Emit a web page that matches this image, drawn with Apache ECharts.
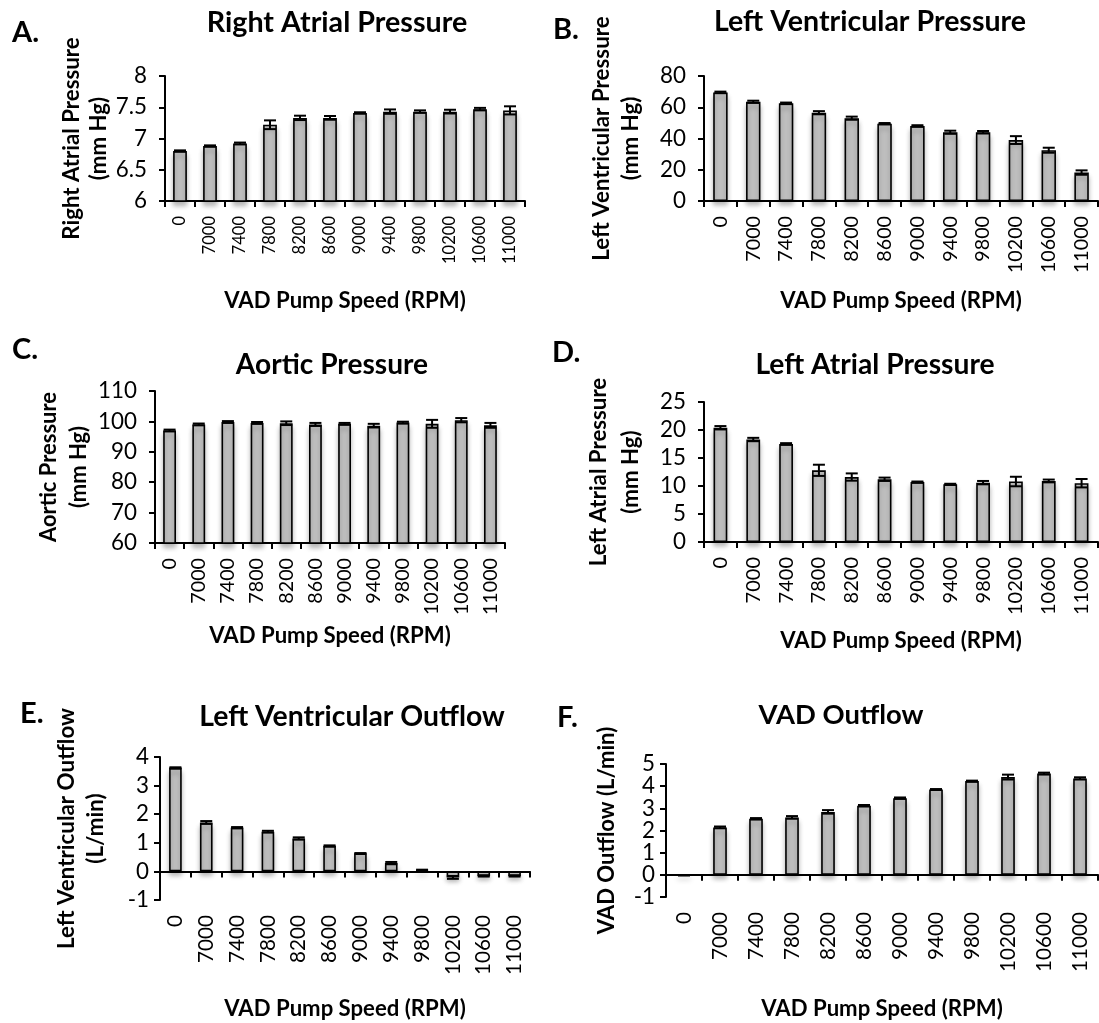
<!DOCTYPE html>
<html><head><meta charset="utf-8">
<script src="https://cdn.jsdelivr.net/npm/echarts@6/dist/echarts.min.js"></script>
<style>html,body{margin:0;padding:0;background:#fff}#c{width:1099px;height:1023px}</style>
</head><body><div id="c"></div>
<script>
// ---------- data ----------
const categories = ['0','7000','7400','7800','8200','8600','9000','9400','9800','10200','10600','11000'];
const rapMean = [6.80,6.88,6.92,7.22,7.33,7.33,7.41,7.43,7.43,7.43,7.47,7.45];
const rapErr  = [0.01,0.01,0.015,0.07,0.035,0.03,0.01,0.035,0.02,0.03,0.02,0.065];
const lvpMean = [69.5,63.5,62.5,56.5,53.0,49.5,48.0,44.0,44.0,39.0,32.5,18.2];
const lvpErr  = [0.5,0.7,0.5,1.0,1.0,0.4,0.5,1.0,0.8,2.5,1.6,1.4];
const aopMean = [97.0,99.0,99.8,99.5,99.4,99.0,99.2,98.6,99.6,99.2,100.4,98.7];
const aopErr  = [0.3,0.3,0.3,0.3,0.6,0.5,0.3,0.6,0.3,1.3,0.7,0.8];
const lapMean = [20.4,18.3,17.5,12.8,11.6,11.2,10.7,10.3,10.6,10.8,10.9,10.5];
const lapErr  = [0.3,0.3,0.15,1.0,0.65,0.3,0.1,0.1,0.3,0.85,0.25,0.75];
const lvoMean = [3.62,1.71,1.53,1.39,1.15,0.89,0.63,0.29,0.04,-0.21,-0.16,-0.16];
const lvoErr  = [0.02,0.05,0.02,0.03,0.04,0.02,0.01,0.04,0.02,0.05,0.02,0.02];
const vadMean = [-0.02,2.14,2.53,2.59,2.84,3.12,3.46,3.85,4.23,4.41,4.57,4.35];
const vadErr  = [0.01,0.04,0.03,0.06,0.08,0.03,0.03,0.02,0.02,0.11,0.04,0.05];

const panelLetters = ['A.','B.','C.','D.','E.','F.'];
const panelTitles = ['Right Atrial Pressure','Left Ventricular Pressure','Aortic Pressure','Left Atrial Pressure','Left Ventricular Outflow','VAD Outflow'];
const yNames = ['Right Atrial Pressure\n(mm Hg)','Left Ventricular Pressure\n(mm Hg)','Aortic Pressure\n(mm Hg)','Left Atrial Pressure\n(mm Hg)','Left Ventricular Outflow\n(L/min)','VAD Outflow (L/min)'];
const xName = 'VAD Pump Speed (RPM)';
const yMin = [6,0,60,0,-1,-1];
const yMax = [8,80,110,25,4,5];
const yInterval = [0.5,20,10,5,1,1];
const means = [rapMean,lvpMean,aopMean,lapMean,lvoMean,vadMean];
const errs = [rapErr,lvpErr,aopErr,lapErr,lvoErr,vadErr];

// ---------- layout ----------
const FONT = 'Lato';
const BOLD_BOOST = 1.05;
const layout = [
  {grid:{left:165,top:76,width:360,height:125}, title:[337,23,248], letter:[12,33], yNameW:193, lh:27, yGap:52, xGap:86, xLabW:48, barW:'46%', yMar:18},
  {grid:{left:704,top:76,width:394,height:125}, title:[870,22,297], letter:[553,30], yNameW:233, lh:29, yGap:59, xGap:86, xLabW:57, barW:'44%', yMar:18},
  {grid:{left:155,top:391,width:350,height:152}, title:[332,365,183], letter:[12,350], yNameW:143, lh:30, yGap:60, xGap:79, xLabW:57, barW:'44%', yMar:18},
  {grid:{left:704,top:402,width:394,height:140}, title:[875,365,228], letter:[552,353], yNameW:180, lh:32, yGap:57, xGap:85, xLabW:58, barW:'42%', yMar:18},
  {grid:{left:160,top:757,width:370,height:183}, title:[352,717,291], letter:[20,714], yNameW:230, lh:29, yGap:50, xGap:95, xLabW:60, barW:'41%', yMar:11},
  {grid:{left:666,top:764,width:432,height:164}, title:[841,715,157], letter:[557,718], yNameW:198, lh:26, yGap:46, xGap:98, xLabW:60, barW:'38%', yMar:11}
];

const ctx = document.createElement('canvas').getContext('2d');
function fit(text, weight, target) {
  ctx.font = weight + ' 100px ' + FONT;
  return Math.round(1000 * target / ctx.measureText(text).width) / 10;
}
const yTickFs = fit('00', 'normal', 26);
const xNameFs = fit(xName, 'bold', 230) * BOLD_BOOST;

const grids = [], xAxes = [], yAxes = [], series = [], graphics = [];
layout.forEach((L, i) => {
  grids.push(Object.assign({containLabel:false}, L.grid));
  const xLabFs = fit('10200', 'normal', L.xLabW);
  const yNameFs = fit(yNames[i].split('\n')[0], 'bold', L.yNameW) * BOLD_BOOST;
  xAxes.push({
    type:'category', gridIndex:i, data:categories,
    name:xName, nameLocation:'middle', nameGap:L.xGap,
    nameTextStyle:{fontFamily:FONT, fontWeight:'bold', fontSize:xNameFs, color:'#000', lineHeight:Math.round(xNameFs*1.2)},
    axisLine:{show:true, onZero:true, lineStyle:{color:'#000', width:2}},
    axisTick:{show:true, length:6, lineStyle:{color:'#000', width:2}},
    axisLabel:{rotate:90, interval:0, margin:15, fontFamily:FONT, fontSize:xLabFs, color:'#000'},
    splitLine:{show:false}
  });
  yAxes.push({
    type:'value', gridIndex:i, min:yMin[i], max:yMax[i], interval:yInterval[i],
    name:yNames[i], nameLocation:'middle', nameRotate:90, nameGap:L.yGap,
    nameTextStyle:{fontFamily:FONT, fontWeight:'bold', fontSize:yNameFs, color:'#000', lineHeight:L.lh},
    axisLine:{show:true, lineStyle:{color:'#000', width:2}},
    axisTick:{show:true, length:6, lineStyle:{color:'#000', width:2}},
    axisLabel:{margin:L.yMar, fontFamily:FONT, fontSize:yTickFs, color:'#000'},
    splitLine:{show:false}
  });
  series.push({
    type:'bar', xAxisIndex:i, yAxisIndex:i, data:means[i], barWidth:L.barW,
    itemStyle:{color:'#bfbfbf', borderColor:'#000', borderWidth:1.6,
      shadowColor:'rgba(0,0,0,0.28)', shadowBlur:5, shadowOffsetY:4},
    emphasis:{disabled:true}, silent:true
  });
  series.push({
    type:'custom', xAxisIndex:i, yAxisIndex:i, silent:true, z:5,
    data:means[i].map((m, k) => [k, m, errs[i][k]]),
    renderItem:function (params, api) {
      const k = api.value(0), m = api.value(1), e = api.value(2);
      const hi = api.coord([k, m + e]), lo = api.coord([k, m - e]);
      const w = 6, st = {stroke:'#000', lineWidth:2};
      return {type:'group', children:[
        {type:'line', shape:{x1:hi[0], y1:hi[1], x2:lo[0], y2:lo[1]}, style:st},
        {type:'line', shape:{x1:hi[0]-w, y1:hi[1], x2:hi[0]+w, y2:hi[1]}, style:st},
        {type:'line', shape:{x1:lo[0]-w, y1:lo[1], x2:lo[0]+w, y2:lo[1]}, style:st}
      ]};
    }
  });
  const tFs = fit(panelTitles[i], 'bold', L.title[2]) * BOLD_BOOST;
  graphics.push({type:'text', x:L.title[0], y:L.title[1], silent:true,
    style:{text:panelTitles[i], fontFamily:FONT, fontWeight:'bold', fontSize:tFs, fill:'#000', align:'center', verticalAlign:'middle'}});
  graphics.push({type:'text', x:L.letter[0], y:L.letter[1], silent:true,
    style:{text:panelLetters[i], fontFamily:FONT, fontWeight:'bold', fontSize:29, fill:'#000', align:'left', verticalAlign:'middle'}});
});

const chart = echarts.init(document.getElementById('c'), null, {renderer:'canvas'});
chart.setOption({
  backgroundColor:'#fff', animation:false,
  grid:grids, xAxis:xAxes, yAxis:yAxes, series:series, graphic:graphics
});
</script></body></html>
